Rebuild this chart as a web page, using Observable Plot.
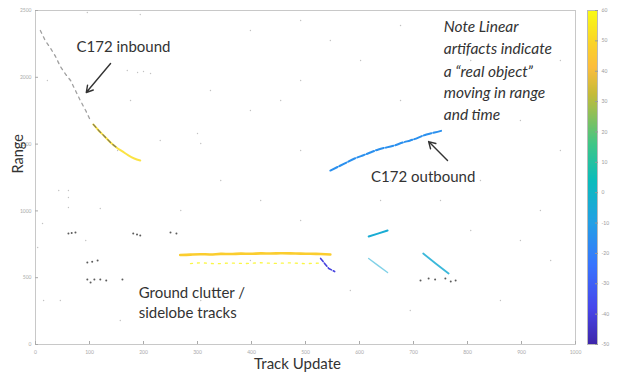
<!DOCTYPE html>
<html><head><meta charset="utf-8">
<script src="https://cdn.jsdelivr.net/npm/d3@7"></script>
<script src="https://cdn.jsdelivr.net/npm/@observablehq/plot@0.6"></script>
<style>
body{margin:0;background:#fff;}
#wrap{position:relative;width:628px;height:376px;overflow:hidden;background:#fff;}
#wrap svg{position:absolute;top:0;}
</style></head><body><div id="wrap"></div>
<script>
// ---- axis ticks ----
const xTicks = [0,100,200,300,400,500,600,700,800,900,1000];
const yTicks = [0,500,1000,1500,2000,2500];
const colorTicks = [-50,-40,-30,-20,-10,0,10,20,30,40,50,60];

// ---- parula-like colour map (stops in 0..1) ----
const parulaT = [0,0.11,0.24,0.365,0.49,0.6,0.75,0.83,0.9,1];
const parulaColors = ["#3e26a8","#4747eb","#3875fe","#23a0e5","#0bbcbc","#3fc687","#c5bb38","#fcbd3d","#fad329","#f9fb14"];

// ---- tracks: [track update, range] ----
const inboundDark = [[9,2350],[18,2275],[28,2216],[37,2156],[46,2081],[56,2021],[65,1976],[74,1901],[83,1826],[93,1751],[100,1692]];
const inboundTrack = [[107,1647],[117,1602],[128,1557],[139,1512],[150,1475],[161,1445],[172,1415],[183,1392],[194,1377]];
const inboundValue = 52;
const outboundTrack = [[546,1302],[561,1332],[576,1362],[591,1392],[606,1415],[620,1437],[635,1460],[650,1475],[665,1490],[680,1512],[694,1527],[709,1549],[724,1572],[739,1587],[754,1602]];
const outboundValue = -15;
const clutterTrack = [[268,670],[287,673],[306,676],[324,674],[343,678],[361,677],[380,680],[398,679],[417,682],[435,681],[454,683],[472,682],[491,680],[509,679],[528,677],[546,674]];
const clutterValue = 47;
const clutterTrack2 = [[287,606],[306,612],[333,604],[361,610],[389,606],[417,612],[444,607],[472,611],[500,605],[524,609]];
const clutterValue2 = 58;
const blueBit = [[528,644],[543,569],[554,546]];
const blueBitValue = -40;
const tealUpper = [[617,808],[634,830],[652,853]];
const tealLower = [[617,644],[634,592],[652,539]];
const tealRight = [[718,681],[741,606],[765,531]];
const tealValue = -4;
const darkBits = [[61,831],[67,834],[74,838],[96,614],[105,620],[115,629],[181,831],[188,824],[194,816],[250,838],[261,831],
  [96,487],[109,487],[120,487],[131,479],[161,487],[102,464],[713,479],[728,494],[759,494],[769,472],[778,479],[740,486]];
const noise = [[96,2485],[194,2470],[22,1976],[170,2051],[189,2036],[200,2043],[213,2028],[176,1826],[300,1579],[306,1504],
  [152,1452],[231,1527],[43,1153],[61,1153],[61,1100],[61,1025],[120,1018],[13,906],[4,726],[15,329],[398,2350],[491,2425],
  [546,2275],[602,2126],[676,2388],[324,1901],[398,1751],[454,1826],[491,1976],[343,1228],[417,1078],[491,928],[269,1003],
  [676,1826],[750,1078],[824,1228],[898,1677],[935,1003],[954,629],[861,329],[694,254],[639,1078],[583,404],[157,180],
  [306,329],[806,853],[898,778],[657,1228],[806,2126],[972,2126],[972,1452],[491,1452],[398,629],[46,329],[93,778]];

// ---- annotations ----
const centeredLabels = [
  {x:163, y:2223, text:"C172 inbound"},
  {x:718, y:1250, text:"C172 outbound"}
];
const clutterLabels = [
  {x:191, y:382, text:"Ground clutter /"},
  {x:191, y:232, text:"sidelobe tracks"}
];
const noteLines = ["Note Linear","artifacts indicate","a \u201creal object\u201d","moving in range","and time"];
const noteY = [2373,2208,2043,1879,1714];
const arrows = [
  {x1:139, y1:2103, x2:94, y2:1886},
  {x1:763, y1:1377, x2:728, y2:1519}
];

const colorScale = {type:"linear", domain: parulaT.map(t => -50 + 110*t), range: parulaColors, clamp:true};
const X = d => d[0], Y = d => d[1];
const font = "Lato, 'Open Sans', sans-serif";

const main = Plot.plot({
  width: 628, height: 376,
  marginLeft: 35, marginRight: 53, marginTop: 10, marginBottom: 32,
  style: {fontFamily: font, background: "transparent", overflow: "visible"},
  x: {domain: [0, 1000]},
  y: {domain: [0, 2500]},
  color: colorScale,
  marks: [
    Plot.frame({stroke: "#c8c8c8"}),
    Plot.axisX({ticks: xTicks, tickSize: -3, text: null, stroke: "#aaa", label: null}),
    Plot.axisX({ticks: xTicks, tickSize: 0, tickPadding: 6, fontSize: 5, fill: "#aaa", label: null, tickFormat: d => String(d)}),
    Plot.axisY({ticks: yTicks, tickSize: -3, text: null, stroke: "#aaa", label: null}),
    Plot.axisY({ticks: yTicks, tickSize: 0, tickPadding: 4, fontSize: 5, fill: "#aaa", label: null, tickFormat: d => String(d)}),
    Plot.dot(noise, {x: X, y: Y, r: 0.7, fill: "#777", fillOpacity: 0.45}),
    Plot.line(inboundDark, {x: X, y: Y, stroke: "#777", strokeWidth: 1.3, strokeDasharray: "3 4", strokeOpacity: 0.7}),
    Plot.line(inboundTrack, {x: X, y: Y, stroke: () => inboundValue, strokeWidth: 2, strokeOpacity: 0.85, curve: "natural"}),
    Plot.line(inboundTrack.slice(0,5), {x: X, y: Y, stroke: "#555", strokeWidth: 1.2, strokeDasharray: "4 3", strokeOpacity: 0.7}),
    Plot.line(outboundTrack, {x: X, y: Y, stroke: () => outboundValue, strokeWidth: 2, strokeDasharray: "8 2", curve: "natural"}),
    Plot.line(clutterTrack2, {x: X, y: Y, stroke: () => clutterValue2, strokeWidth: 1.3, strokeDasharray: "2 5", strokeOpacity: 0.8}),
    Plot.line(clutterTrack, {x: X, y: Y, stroke: () => clutterValue, strokeWidth: 2.6, curve: "natural"}),
    Plot.line(blueBit, {x: X, y: Y, stroke: () => blueBitValue, strokeWidth: 1.6, strokeDasharray: "4 2"}),
    Plot.line(tealUpper, {x: X, y: Y, stroke: () => tealValue, strokeWidth: 2}),
    Plot.line(tealLower, {x: X, y: Y, stroke: () => tealValue, strokeWidth: 1.4, strokeOpacity: 0.55}),
    Plot.line(tealRight, {x: X, y: Y, stroke: () => tealValue, strokeWidth: 1.8, strokeOpacity: 0.85}),
    Plot.dot(darkBits, {x: X, y: Y, r: 1, fill: "#333", fillOpacity: 0.8}),
    Plot.arrow(arrows, {x1: "x1", y1: "y1", x2: "x2", y2: "y2", stroke: "#333", strokeWidth: 1.4, headLength: 8}),
    Plot.text(centeredLabels, {x: "x", y: "y", text: "text", textAnchor: "middle", fontSize: 15, fill: "#333"}),
    Plot.text(clutterLabels, {x: "x", y: "y", text: "text", textAnchor: "start", fontSize: 15, fill: "#333"}),
    Plot.text(noteLines, {x: () => 756, y: (d, i) => noteY[i], text: d => d, textAnchor: "start", fontSize: 15.5, fontStyle: "italic", fill: "#333"}),
    Plot.text(["Range"], {frameAnchor: "left", dx: -17, dy: -4, rotate: -90, text: d => d, fontSize: 14.5, fill: "#333"}),
    Plot.text(["Track Update"], {frameAnchor: "bottom", dx: -8, dy: 24, text: d => d, fontSize: 15, fill: "#333"})
  ]
});
main.style.left = "0px";
document.getElementById("wrap").appendChild(main);

const bar = Plot.plot({
  width: 68, height: 376,
  marginLeft: 27, marginRight: 31, marginTop: 10, marginBottom: 32,
  style: {fontFamily: font, background: "transparent", overflow: "visible"},
  x: {domain: [0, 1], axis: null},
  y: {domain: [-50, 60]},
  color: colorScale,
  marks: [
    Plot.raster({x1: 0, x2: 1, y1: -50, y2: 60, fill: (x, y) => y}),
    Plot.frame({stroke: "#bbb"}),
    Plot.axisY({anchor: "right", ticks: colorTicks, tickSize: -3, text: null, stroke: "#999", label: null}),
    Plot.axisY({anchor: "right", ticks: colorTicks, tickSize: 0, tickPadding: 4, fontSize: 5, fill: "#999", label: null, tickFormat: d => String(d)})
  ]
});
bar.style.left = "560px";
document.getElementById("wrap").appendChild(bar);
</script></body></html>
